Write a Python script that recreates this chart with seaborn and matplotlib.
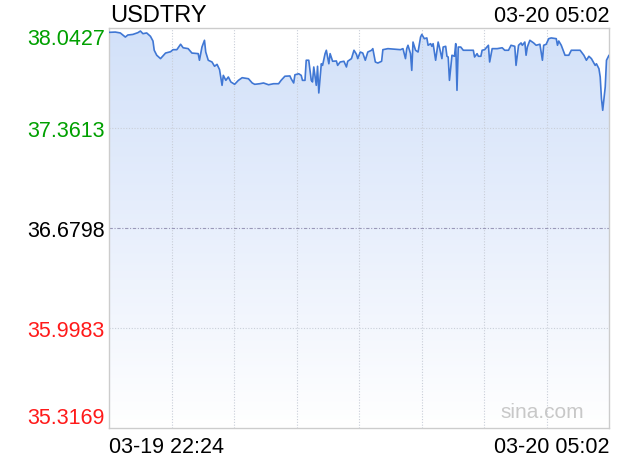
import numpy as np
import pandas as pd
import matplotlib
matplotlib.use("Agg")
import matplotlib.pyplot as plt
import seaborn as sns

# minutes after 03-19 22:24 and the USDTRY quote
minutes = [0, 5, 9, 11, 13, 15, 19, 23, 25, 27, 30, 33, 35, 36, 38, 41, 45, 49, 51, 54,
           57, 59, 63, 66, 71, 72, 74, 76, 77, 79, 82, 84, 86, 88, 90, 91, 93, 95, 97, 100,
           103, 106, 111, 114, 116, 120, 123, 127, 131, 135, 137, 140, 144, 145, 147, 148, 151, 153, 154, 156,
           157, 159, 161, 162, 163, 165, 166, 167, 169, 170, 172, 173, 175, 176, 178, 181, 182, 184, 187, 189,
           190, 193, 195, 197, 198, 200, 202, 204, 206, 209, 210, 212, 214, 217, 218, 222, 228, 232, 234, 236,
           237, 238, 240, 241, 242, 244, 246, 248, 249, 251, 253, 254, 256, 257, 258, 260, 262, 263, 265, 266,
           268, 269, 270, 271, 273, 275, 276, 277, 278, 280, 282, 286, 290, 291, 293, 294, 296, 297, 299, 302,
           303, 305, 309, 313, 315, 318, 320, 323, 324, 326, 328, 329, 331, 332, 333, 335, 338, 340, 343, 345,
           346, 348, 350, 352, 356, 357, 358, 360, 363, 366, 368, 371, 375, 378, 380, 382, 384, 387, 388, 390,
           391, 392, 393, 395, 396, 398]
prices = [38.013, 38.015, 38.009, 37.995, 37.981, 37.995, 37.999, 38.011, 38.022, 38.004,
          38.009, 37.986, 37.954, 37.891, 37.857, 37.834, 37.872, 37.881, 37.895, 37.895,
          37.932, 37.908, 37.902, 37.872, 37.868, 37.823, 37.913, 37.959, 37.879, 37.823,
          37.811, 37.782, 37.795, 37.759, 37.652, 37.720, 37.686, 37.709, 37.675, 37.659,
          37.686, 37.704, 37.697, 37.668, 37.659, 37.663, 37.668, 37.656, 37.663, 37.663,
          37.686, 37.714, 37.716, 37.697, 37.668, 37.724, 37.731, 37.720, 37.686, 37.686,
          37.823, 37.823, 37.686, 37.675, 37.777, 37.652, 37.782, 37.600, 37.799, 37.788,
          37.868, 37.891, 37.799, 37.868, 37.816, 37.818, 37.788, 37.811, 37.816, 37.777,
          37.816, 37.834, 37.891, 37.863, 37.834, 37.879, 37.872, 37.823, 37.879, 37.891,
          37.902, 37.811, 37.804, 37.816, 37.895, 37.902, 37.898, 37.895, 37.902, 37.834,
          37.902, 37.925, 37.868, 37.754, 37.947, 37.891, 37.879, 37.981, 37.999, 37.970,
          37.975, 37.925, 37.936, 37.918, 37.936, 37.823, 37.947, 37.913, 37.834, 37.913,
          37.918, 37.850, 37.845, 37.686, 37.857, 37.850, 37.936, 37.618, 37.913, 37.913,
          37.891, 37.891, 37.891, 37.845, 37.868, 37.850, 37.850, 37.891, 37.895, 37.925,
          37.811, 37.902, 37.902, 37.908, 37.891, 37.891, 37.925, 37.918, 37.788, 37.925,
          37.941, 37.925, 37.947, 37.857, 37.913, 37.959, 37.941, 37.925, 37.932, 37.823,
          37.925, 37.932, 37.970, 37.975, 37.970, 37.925, 37.954, 37.925, 37.857, 37.857,
          37.891, 37.891, 37.891, 37.857, 37.823, 37.850, 37.834, 37.788, 37.799, 37.765,
          37.709, 37.561, 37.482, 37.641, 37.823, 37.857]

y_levels = [38.0427, 37.3613, 36.6798, 35.9983, 35.3169]
y_colors = ["#00a000", "#00a000", "#000000", "#ff1a1a", "#ff1a1a"]
x_labels = ["03-19 22:24", "03-20 05:02"]
symbol = "USDTRY"

df = pd.DataFrame({"minute": minutes, "price": prices})

sns.set_style("white")
plt.rcParams["font.family"] = ["Liberation Sans", "DejaVu Sans"]

fig = plt.figure(figsize=(6.2, 4.6), dpi=100)
ax = fig.add_axes([109 / 620, 1 - 429 / 460, 500 / 620, 400 / 460])

x0, x1 = 0, 398
y0, y1 = y_levels[-1], y_levels[0]
ax.set_xlim(x0, x1)
ax.set_ylim(y0, y1)

# gradient fill under the curve
grad = np.linspace(0, 1, 256).reshape(-1, 1)
cmap = matplotlib.colors.LinearSegmentedColormap.from_list(
    "fade", ["#ffffff", "#e8effc", "#d2e1f9"])
img = ax.imshow(grad, cmap=cmap, aspect="auto", origin="lower",
                extent=[x0, x1, y0, y1], zorder=1)
poly = ax.fill_between(df["minute"], df["price"], y0, color="none", zorder=1)
img.set_clip_path(poly.get_paths()[0], transform=ax.transData)

sns.lineplot(data=df, x="minute", y="price", ax=ax, color="#4077d4",
             linewidth=1.2, zorder=3)

# grid
for k in range(1, 8):
    ax.axvline(x0 + (x1 - x0) * k / 8, color="#c9ced8", lw=0.8, ls=(0, (1, 1.5)), zorder=2)
for v in [y_levels[1], y_levels[3]]:
    ax.axhline(v, color="#c9ced8", lw=0.8, ls=(0, (1, 1.5)), zorder=2)
ax.axhline(y_levels[2], color="#9a98b8", lw=0.8, ls=(0, (3, 1.5, 1, 1.5)), zorder=2)

for s in ax.spines.values():
    s.set_color("#cccccc")
    s.set_linewidth(1.0)

ax.set_xlabel("")
ax.set_ylabel("")
ax.set_yticks(y_levels)
ax.set_yticklabels([f"{v:.4f}" for v in y_levels], fontsize=15.5)
for lab, c in zip(ax.get_yticklabels(), y_colors):
    lab.set_color(c)
ax.get_yticklabels()[0].set_va("top")
ax.get_yticklabels()[-1].set_va("bottom")

ax.set_xticks([x0, x1])
ax.set_xticklabels(x_labels, fontsize=15.5, color="black")
ax.get_xticklabels()[0].set_ha("left")
ax.get_xticklabels()[1].set_ha("right")
ax.tick_params(axis="both", length=0)
ax.tick_params(axis="y", pad=3)
ax.tick_params(axis="x", pad=6)

fig.text(110 / 620, 1 - 16 / 460, symbol, fontsize=17, color="black", ha="left", va="center")
fig.text(609 / 620, 1 - 17 / 460, x_labels[1], fontsize=15.5, color="black", ha="right", va="center")
ax.text(0.95, 0.04, "sina.com", transform=ax.transAxes, fontsize=15,
        color="#c8c8c8", ha="right", va="center", zorder=4)

fig.savefig("out.png", dpi=100)
